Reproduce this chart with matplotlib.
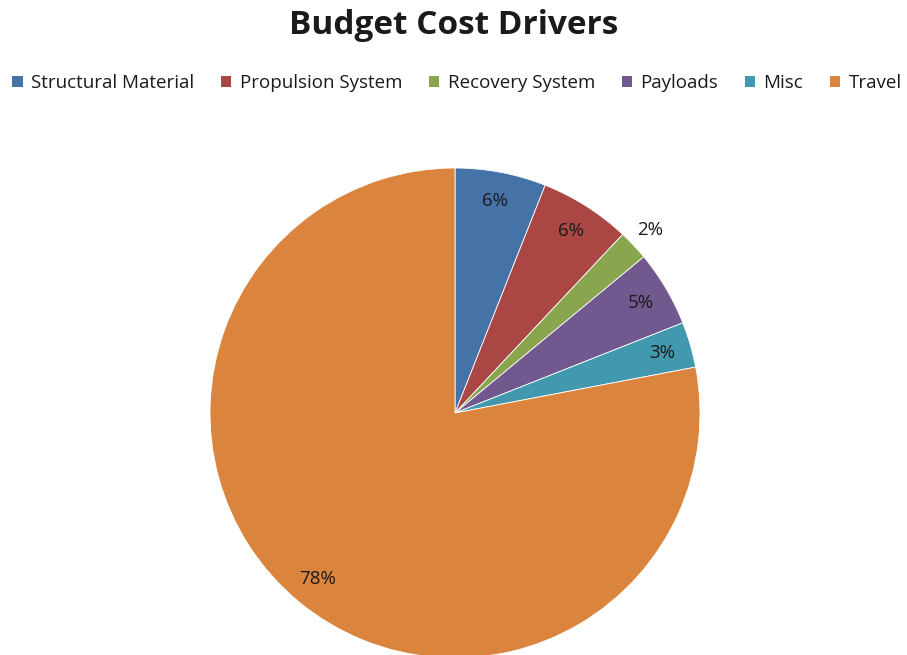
import matplotlib
matplotlib.use("Agg")
import matplotlib.pyplot as plt
from matplotlib.patches import Patch
import numpy as np

plt.rcParams['font.family'] = ['Open Sans', 'DejaVu Sans']

categories = ["Structural Material", "Propulsion System", "Recovery System",
              "Payloads", "Misc", "Travel"]
shares = [6, 6, 2, 5, 3, 78]
colors = ["#4572A7", "#AA4643", "#89A54E", "#71588F", "#4198AF", "#DB843D"]

fig = plt.figure(figsize=(9.07, 6.55), dpi=100)
fig.patch.set_facecolor("white")

# pie axes: radius 1 maps to 245 px, centre at (455, 413) px from top-left
W, H = 907, 655
cx, cy, r = 455, 413, 245
ax = fig.add_axes([(cx - r) / W, (H - cy - r) / H, 2 * r / W, 2 * r / H])
wedges, texts, autotexts = ax.pie(
    shares, colors=colors, startangle=90, counterclock=False,
    autopct='%.0f%%', pctdistance=0.88,
    wedgeprops=dict(edgecolor="white", linewidth=0.6),
    textprops=dict(fontsize=13.5, color="#1a1a1a"))
ax.set_xlim(-1, 1)
ax.set_ylim(-1, 1)
ax.set_aspect("equal")
ax.axis("off")

# the thin recovery slice gets its label outside the pie
w = wedges[2]
mid = np.deg2rad((w.theta1 + w.theta2) / 2)
autotexts[2].set_position((1.09 * np.cos(mid), 1.09 * np.sin(mid)))

fig.text(0.5, 1 - 25 / H, "Budget Cost Drivers", ha="center", va="center",
         fontsize=24, fontweight="bold", color="#1a1a1a")

handles = [Patch(facecolor=c, edgecolor="none") for c in colors]
fig.legend(handles, categories, loc="center",
           bbox_to_anchor=(457 / W, 1 - 83 / H),
           ncol=6, frameon=False, fontsize=13.5, handlelength=0.55,
           handleheight=0.55, handletextpad=0.45, columnspacing=1.42,
           labelcolor="#1a1a1a")

fig.savefig("out.png", dpi=100)
